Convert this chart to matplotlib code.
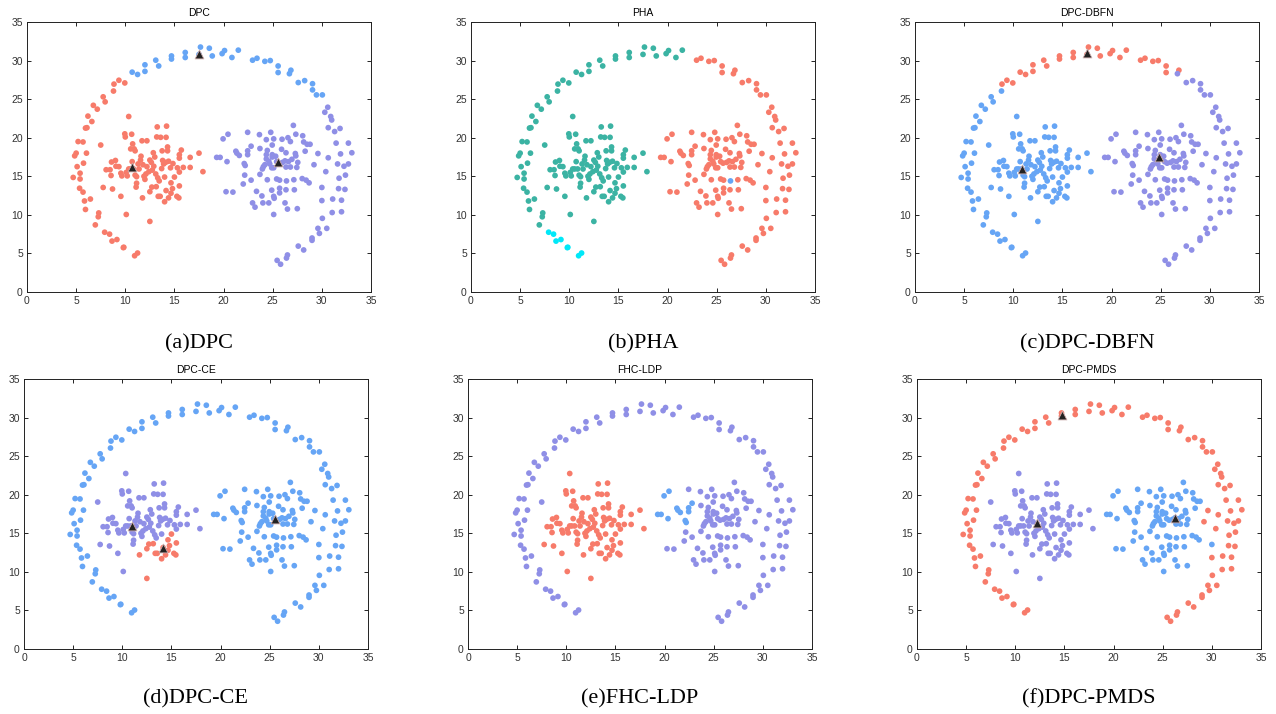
import numpy as np
import matplotlib
matplotlib.use('Agg')
import matplotlib.pyplot as plt

##### colours
RED = '#f77b6a'
BLUE = '#66a5f5'
PURPLE = '#8f8fe6'
TEAL = '#3bb3a3'
CYAN = '#00e8f8'

##### ring, split where the clusterings cut it
ring_cyan_x = [11.25, 10.95, 9.85, 9.8, 9.15, 8.65, 8.4, 7.9]
ring_cyan_y = [5.05, 4.7, 5.8, 5.75, 6.8, 6.6, 7.5, 7.75]

ring_left_x = [6.95, 7.25, 7.3, 5.95, 5.85, 6.45, 5.7, 5.35, 5.4, 4.7, 5.4, 5.1, 5.75,
               4.85, 5.0, 6.05, 5.2, 5.7, 6.1, 5.95, 6.2, 6.6, 6.75, 7.15, 7.75, 7.95, 8.8]
ring_left_y = [8.7, 9.75, 10.25, 10.7, 11.8, 12.05, 12.95, 13.45, 14.65, 14.85, 15.4, 16.25, 16.7,
               17.65, 18.0, 18.0, 19.5, 19.45, 21.3, 21.25, 22.8, 22.1, 24.2, 23.7, 25.3, 24.65, 26.05]

ring_topa_x = [8.85, 9.35, 9.95]
ring_topa_y = [26.95, 27.45, 27.1]

ring_topb_x = [10.7, 11.25, 12.0, 12.0, 13.1, 13.4, 14.7, 14.7, 16.1, 16.1, 17.5, 17.65,
               18.55, 18.85, 19.85, 20.1, 20.85, 21.5]
ring_topb_y = [28.5, 28.2, 28.6, 29.45, 30.05, 29.3, 30.2, 30.6, 30.4, 31.05, 30.8, 31.75,
               31.6, 30.6, 30.9, 31.3, 30.4, 31.35]

ring_topc_x = [22.95, 23.4, 24.2, 24.75, 25.55, 25.55, 26.85]
ring_topc_y = [30.05, 30.3, 29.9, 30.0, 29.3, 28.45, 28.75]

ring_righta_x = [26.7, 27.6, 28.25, 29.05, 29.05, 29.45, 30.05]
ring_righta_y = [28.3, 27.15, 27.4, 27.0, 26.2, 25.55, 25.55]

ring_rightb_x = [30.3, 30.6, 30.9, 31.0, 30.65, 31.3, 31.85, 31.45, 32.7, 31.9, 33.05, 30.65,
                 31.6, 32.25, 32.7, 30.4, 31.75, 32.4, 31.7, 32.35, 31.1, 32.0, 30.0, 31.05,
                 32.0, 30.05, 29.6, 30.5, 29.0, 29.0, 29.75, 27.6, 28.15, 26.5, 26.4, 25.45,
                 25.8, 29.6, 29.2]
ring_rightb_y = [23.3, 23.95, 22.75, 22.3, 21.3, 20.8, 21.2, 19.3, 19.3, 17.9, 18.05, 17.4,
                 16.6, 16.3, 16.6, 15.6, 14.75, 15.15, 13.4, 13.3, 12.05, 11.9, 11.85, 10.3,
                 10.4, 9.55, 8.25, 8.25, 7.0, 6.7, 7.6, 5.95, 5.45, 4.8, 4.4, 4.1,
                 3.6, 17.95, 16.5]

##### left blob
lmain_x = [10.35, 9.95, 10.0, 10.65, 10.75, 10.9, 11.0, 10.55, 11.7, 12.2, 12.85, 13.25,
           13.2, 13.6, 14.2, 14.15, 13.75, 14.3, 14.3, 15.5, 15.5, 15.7, 16.6, 17.5, 17.9,
           16.6, 15.9, 15.3, 15.5, 10.1, 9.55, 8.7, 7.75, 8.55, 8.05, 8.45, 8.6, 9.0, 9.05,
           9.35, 9.55, 9.65, 10.1, 10.2, 10.55, 10.85, 10.35, 11.0, 11.15, 11.15, 11.1, 11.4,
           11.3, 11.55, 12.2, 12.65, 12.75, 13.3, 13.45, 13.7, 13.8, 14.4, 14.85, 12.1, 12.4,
           11.8, 12.9, 13.0, 13.9, 14.1, 14.6, 12.0, 11.6, 10.7, 11.9, 13.1, 14.0, 12.5]
lmain_y = [22.75, 20.5, 20.1, 20.45, 19.2, 18.55, 18.3, 18.55, 19.6, 19.6, 18.05, 21.4,
           20.1, 20.05, 21.5, 20.05, 18.3, 18.8, 18.3, 17.8, 17.35, 18.4, 17.45, 18.0, 15.6,
           16.15, 16.15, 16.1, 15.55, 10.05, 12.4, 13.35, 13.55, 15.1, 15.85, 15.85, 16.85, 17.05, 16.3,
           16.25, 15.4, 15.05, 15.5, 15.05, 15.95, 15.95, 15.95, 15.15, 14.95, 14.1, 13.6, 15.95,
           16.6, 17.1, 16.25, 16.8, 15.8, 14.8, 14.4, 16.0, 17.05, 16.95, 16.65, 15.3, 15.6,
           16.5, 16.3, 17.5, 16.6, 16.8, 16.1, 14.6, 17.6, 16.9, 15.0, 15.3, 14.9, 17.1]

llow_x = [15.0, 15.5, 15.25, 15.45, 14.65, 14.8, 14.65, 14.4, 14.0, 14.15, 13.55, 13.35,
          13.15, 12.7, 12.5, 11.75, 12.5]
llow_y = [14.9, 13.75, 12.4, 12.2, 14.15, 13.4, 12.8, 12.2, 11.7, 13.15, 12.4, 12.4,
          13.65, 13.6, 13.0, 12.2, 9.15]

lout_x = [7.5]
lout_y = [19.05]

##### right blob
rmain_x = [20.25, 20.95, 22.45, 22.15, 22.0, 22.8, 23.35, 22.95, 23.2, 23.65, 23.7, 23.95,
           23.7, 24.05, 23.9, 24.0, 24.35, 24.8, 24.45, 24.35, 24.35, 24.6, 24.95, 24.95, 24.95,
           24.9, 24.45, 24.6, 24.9, 25.1, 25.1, 25.1, 25.15, 25.1, 25.4, 25.7, 25.65, 25.7, 25.7,
           25.95, 26.25, 26.35, 26.35, 26.35, 26.25, 26.5, 26.55, 26.8, 26.8, 26.95, 27.1, 27.15,
           27.35, 27.3, 27.35, 27.55, 27.45, 27.2, 27.5, 28.05, 28.15, 28.3, 28.0, 28.4, 28.7,
           28.5, 28.8, 30.0, 24.7, 25.4, 26.0, 25.3, 24.2, 26.6, 25.9]
rmain_y = [13.0, 12.95, 20.7, 15.15, 14.0, 14.5, 13.05, 11.55, 11.0, 20.4, 18.6, 15.95,
           15.25, 16.25, 12.45, 11.55, 19.75, 20.7, 18.35, 17.8, 17.25, 16.95, 19.05, 17.8, 17.5,
           16.1, 14.55, 11.55, 13.2, 19.85, 16.1, 12.4, 12.15, 10.05, 14.65, 14.5, 16.7, 13.45, 12.85,
           19.8, 17.0, 18.05, 16.2, 13.25, 11.55, 10.75, 20.0, 19.5, 16.2, 17.2, 21.6, 14.55,
           20.45, 17.95, 17.65, 16.8, 16.15, 13.25, 10.8, 20.25, 19.45, 18.25, 14.7, 14.5, 14.15,
           19.15, 19.15, 13.55, 16.6, 16.9, 16.8, 17.6, 16.5, 16.9, 18.5]

rfhc_x = [19.95, 20.45, 19.3, 19.65, 20.35, 21.25, 21.35, 21.6, 22.1, 22.2, 22.45, 22.45, 22.8]
rfhc_y = [19.85, 20.45, 17.45, 17.45, 16.9, 18.25, 18.0, 17.7, 16.65, 16.4, 18.3, 17.8, 18.9]

rpha_x = [26.4]
rpha_y = [14.4]

groups = [(ring_cyan_x, ring_cyan_y), (ring_left_x, ring_left_y), (ring_topa_x, ring_topa_y),
          (ring_topb_x, ring_topb_y), (ring_topc_x, ring_topc_y), (ring_righta_x, ring_righta_y),
          (ring_rightb_x, ring_rightb_y), (lmain_x, lmain_y), (llow_x, llow_y), (lout_x, lout_y),
          (rmain_x, rmain_y), (rfhc_x, rfhc_y), (rpha_x, rpha_y)]

##### one colour per group for every method
titles = ['DPC', 'PHA', 'DPC-DBFN', 'DPC-CE', 'FHC-LDP', 'DPC-PMDS']
captions = ['(a)DPC', '(b)PHA', '(c)DPC-DBFN', '(d)DPC-CE', '(e)FHC-LDP', '(f)DPC-PMDS']
colours = [
    [RED, RED, RED, BLUE, BLUE, BLUE, PURPLE, RED, RED, RED, PURPLE, PURPLE, PURPLE],
    [CYAN, TEAL, TEAL, TEAL, RED, RED, RED, TEAL, TEAL, TEAL, RED, RED, BLUE],
    [BLUE, BLUE, RED, RED, RED, PURPLE, PURPLE, BLUE, BLUE, BLUE, PURPLE, PURPLE, PURPLE],
    [BLUE, BLUE, BLUE, BLUE, BLUE, BLUE, BLUE, PURPLE, RED, PURPLE, BLUE, BLUE, BLUE],
    [PURPLE] * 7 + [RED, RED, PURPLE, PURPLE, BLUE, PURPLE],
    [RED] * 7 + [PURPLE, PURPLE, PURPLE, BLUE, BLUE, BLUE],
]
# cluster centres (black triangles), None where the method shows none
centre_x = [[10.7, 17.55, 25.5], None, [10.9, 17.5, 24.85], [10.95, 14.1, 25.5], None, [12.2, 14.75, 26.2]]
centre_y = [[16.15, 30.9, 16.8], None, [16.0, 31.0, 17.45], [16.0, 13.15, 16.8], None, [16.3, 30.3, 17.0]]

###### drawing
W, H = 1276, 714
fig = plt.figure(figsize=(W / 100, H / 100), dpi=100)
lefts = [27, 471, 915, 24, 468, 917]
bottoms = [292, 292, 292, 649, 649, 649]
cap_y = [344, 344, 344, 699, 699, 699]
aw, ah = 344, 270

for i in range(6):
    ax = fig.add_axes([lefts[i] / W, 1 - bottoms[i] / H, aw / W, ah / H])
    for (gx, gy), c in zip(groups, colours[i]):
        ax.scatter(gx, gy, s=17, color=c, edgecolors='none', zorder=2)
    if centre_x[i] is not None:
        ax.scatter(centre_x[i], centre_y[i], s=40, marker='^', color='#222222',
                   edgecolors='#c9a9a9', linewidths=0.6, zorder=3)
    ax.set_xlim(0, 35)
    ax.set_ylim(0, 35)
    ax.set_xticks(range(0, 36, 5))
    ax.set_yticks(range(0, 36, 5))
    ax.tick_params(direction='in', top=True, right=True, length=3, width=0.6,
                   labelsize=7.5, labelcolor='#333333', pad=3)
    for lab in ax.get_xticklabels() + ax.get_yticklabels():
        lab.set_family('Liberation Sans')
    for sp in ax.spines.values():
        sp.set_linewidth(0.7)
        sp.set_color('#222222')
    ax.set_title(titles[i], fontsize=7.5, family='Liberation Sans', pad=4)
    fig.text((lefts[i] + aw / 2) / W, 1 - cap_y[i] / H, captions[i], ha='center', va='center',
             fontsize=16, family='Liberation Serif')

fig.savefig('out.png', dpi=100)
